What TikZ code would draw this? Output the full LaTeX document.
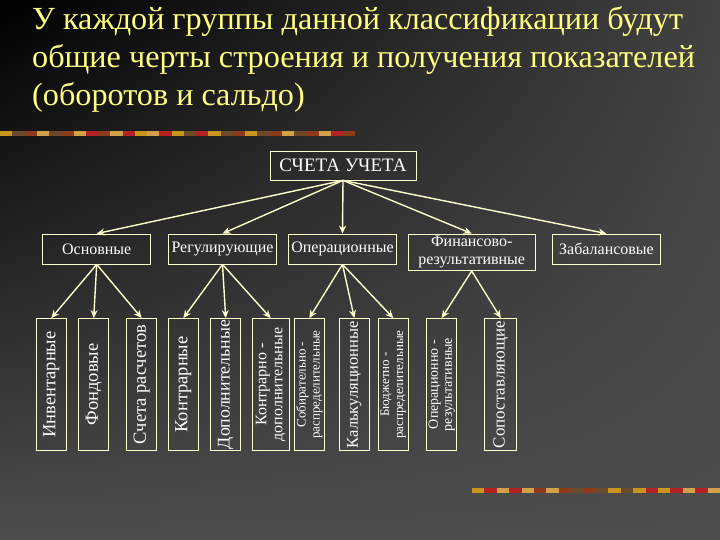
\documentclass[tikz,border=0pt]{standalone}
\usepackage{fontspec}
\setmainfont{Liberation Serif}
\usepackage{xcolor}
\usetikzlibrary{arrows.meta,shadings}
\definecolor{titlecol}{HTML}{FFFF80}
\definecolor{linecol}{HTML}{FFFFCC}
\definecolor{bgtopright}{HTML}{424242}
\definecolor{bggray}{HTML}{4D4D4D}
\definecolor{bar0}{HTML}{C8961E}
\definecolor{bar1}{HTML}{8B3A1A}
\definecolor{bar2}{HTML}{B22222}
\definecolor{bar3}{HTML}{6B4A2A}
\definecolor{bar4}{HTML}{D2A04A}
\tikzset{
  hbox/.style={draw=linecol, line width=0.8pt, text=white, minimum width=108pt, minimum height=30pt, inner sep=0pt, align=center, font=\fontsize{16}{18}\selectfont},
  vbox/.style={draw=linecol, line width=0.8pt, text=white, rotate=90, minimum width=132pt, minimum height=30pt, inner sep=0pt, align=center, font=\fontsize{18.5}{18}\selectfont},
  arr/.style={draw=linecol, line width=1.4pt, -{Stealth[length=8pt,width=7pt]}},
  titleline/.style={anchor=base west, inner sep=0pt, text=titlecol, font=\fontsize{32.2}{37}\selectfont}
}

\begin{document}
\begin{tikzpicture}[x=1pt,y=-1pt]
            \useasboundingbox (0,0) rectangle (720,540);
            \shade[upper left=black, upper right=bgtopright, lower left=bggray, lower right=bggray] (0,0) rectangle (720,540);
            \foreach \i in {0,...,28} {
              \pgfmathtruncatemacro\k{mod(\i*3+\i/4,5)}
              \fill[bar\k] (\i*12.25,131.5) rectangle ++(12.25,4.5);
            }
            \foreach \i in {0,...,19} {
              \pgfmathtruncatemacro\k{mod(\i*2+\i/3,5)}
              \fill[bar\k] (472+\i*12.4,488) rectangle ++(12.4,4.5);
            }
            \node[titleline] (title1) at (32,30) {У каждой группы данной классификации будут};
            \node[titleline] (title2) at (32,68) {общие черты строения и получения показателей};
            \node[titleline] (title3) at (32,106) {(оборотов и сальдо)};
            \node[hbox, minimum width=146pt, minimum height=29pt, font=\fontsize{19}{20}\selectfont] (accounts) at (343,165.5) {СЧЕТА УЧЕТА};
            \node[hbox] (basic) at (96.7,249) {Основные};
            \node[hbox] (regul) at (222.5,249) {Регулирующие};
            \node[hbox] (oper) at (342.5,249) {Операционные};
            \node[hbox, minimum width=126.7pt, minimum height=36.7pt] (fin) at (471.7,252.3) {Финансово-\\результативные};
            \node[hbox] (offbal) at (606.5,249) {Забалансовые};
            \node[vbox] (inv) at (51.3,384.5) {Инвентарные};
            \node[vbox] (fund) at (93.7,384.5) {Фондовые};
            \node[vbox] (settle) at (141.7,384.5) {Счета расчетов};
            \node[vbox] (contra) at (183.3,384.5) {Контрарные};
            \node[vbox, font=\fontsize{17.8}{18}\selectfont] (addit) at (225.7,384.5) {Дополнительные};
            \node[vbox, minimum height=37pt, font=\fontsize{16}{16}\selectfont] (contraadd) at (270.7,384.5) {Контрарно -\\дополнительные};
            \node[vbox, font=\fontsize{13}{14}\selectfont] (collect) at (309.3,384.5) {Собирательно -\\распределительные};
            \node[vbox, font=\fontsize{16.5}{18}\selectfont] (costing) at (354.3,384.5) {Калькуляционные};
            \node[vbox, font=\fontsize{13}{14}\selectfont] (budget) at (393.3,384.5) {Бюджетно -\\распределительные};
            \node[vbox, font=\fontsize{14}{14}\selectfont] (opres) at (441.7,384.5) {Операционно -\\результативные};
            \node[vbox, minimum height=32pt, font=\fontsize{17}{18}\selectfont] (compare) at (500.8,384.5) {Сопоставляющие};
            \foreach \n in {basic,regul,oper,fin,offbal}
              \draw[arr] (accounts.south) -- (\n.north);
            \foreach \n in {inv,fund,settle}
              \draw[arr] (basic.south) -- (\n.east);
            \foreach \n in {contra,addit,contraadd}
              \draw[arr] (regul.south) -- (\n.east);
            \foreach \n in {collect,costing,budget}
              \draw[arr] (oper.south) -- (\n.east);
            \foreach \n in {opres,compare}
              \draw[arr] (fin.south) -- (\n.east);
        \end{tikzpicture}
\end{document}
